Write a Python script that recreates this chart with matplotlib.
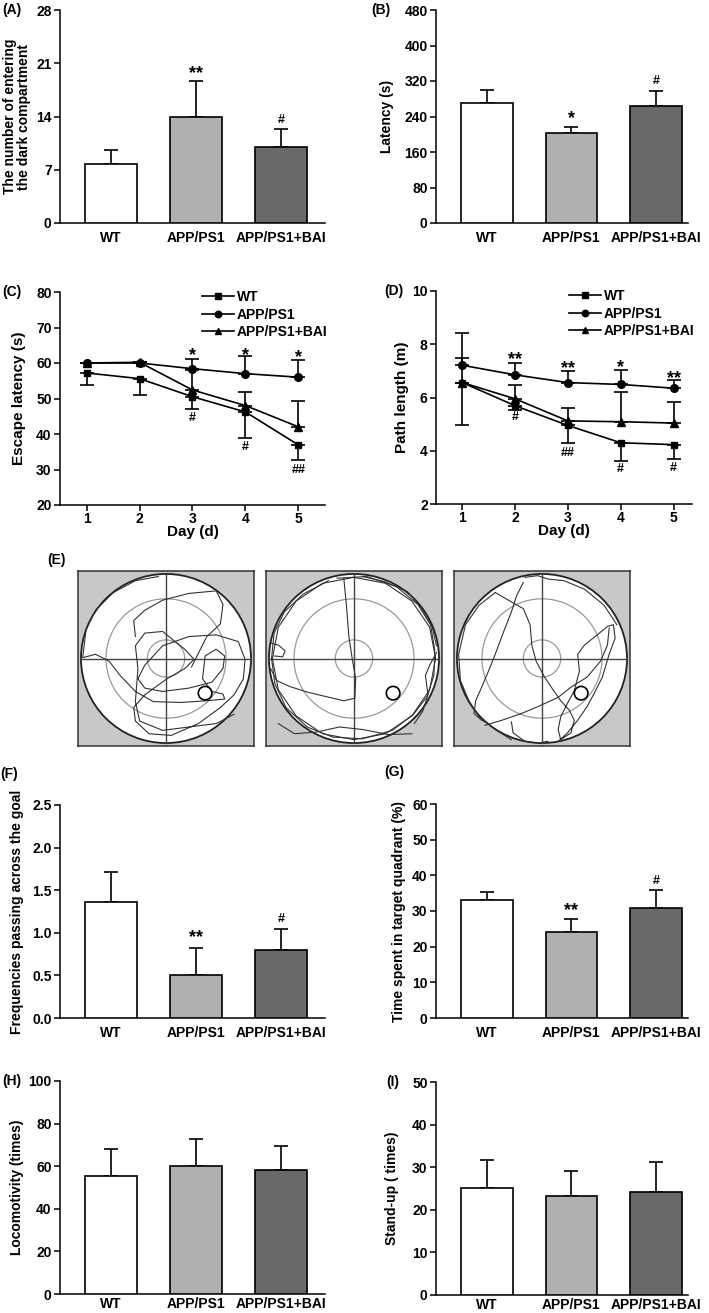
import matplotlib
matplotlib.use('Agg')
import numpy as np
import matplotlib.pyplot as plt
from matplotlib.patches import Circle

plt.rcParams.update({'font.family': ['Liberation Sans', 'DejaVu Sans'], 'font.weight': 'bold',
                     'font.size': 10, 'axes.linewidth': 1.1})

W, H = 709, 1313
groups = ['WT', 'APP/PS1', 'APP/PS1+BAI']
bar_colors = ['white', '#b0b0b0', '#696969']

# bar panels: means and upper SEM
a_vals = [7.8, 14.0, 10.05]
a_err = [1.85, 4.7, 2.25]
b_vals = [270, 203, 264]
b_err = [29, 14, 33]
f_vals = [1.36, 0.50, 0.80]
f_err = [0.35, 0.32, 0.25]
g_vals = [33.0, 24.2, 30.9]
g_err = [2.2, 3.5, 4.9]
h_vals = [55.5, 60.1, 58.2]
h_err = [12.4, 12.8, 11.2]
i_vals = [25.2, 23.2, 24.1]
i_err = [6.4, 5.9, 7.2]

# water maze training
days = [1, 2, 3, 4, 5]
c_wt = [57.2, 55.6, 50.5, 46.2, 36.9]
c_wt_err = [3.5, 4.7, 3.5, 7.4, 4.3]
c_app = [60.0, 60.0, 58.4, 57.0, 56.0]
c_app_err = [0, 0, 2.8, 5.0, 4.8]
c_bai = [60.0, 60.2, 52.4, 48.0, 42.0]
c_bai_err = [0, 0, 5.5, 3.8, 7.3]
d_wt = [6.56, 5.69, 4.95, 4.30, 4.23]
d_wt_err = [1.61, 0.15, 0.67, 0.67, 0.53]
d_app = [7.21, 6.85, 6.56, 6.49, 6.35]
d_app_err = [1.20, 0.44, 0.43, 0.55, 0.29]
d_bai = [6.56, 5.95, 5.12, 5.09, 5.04]
d_bai_err = [0.92, 0.53, 0.49, 1.10, 0.80]

# swim tracks (pool centre 0,0 ; radius 100)
wt_track1 = [(-9, 97), (-36, 92), (-62, 78), (-83, 57), (-94, 34), (-98, 1), (-83, 5), (-67, -3), (-54, -20),
             (-36, -39), (-15, -51), (17, -52), (48, -50), (69, -48), (67, -42), (54, -39), (43, -24), (46, 3),
             (59, 11), (69, 3), (67, -12), (54, -28), (27, -35), (-4, -39), (-25, -35), (-33, -24), (-25, -8),
             (-4, 15), (27, 26), (59, 28), (85, 20), (93, -1), (91, -24), (80, -43), (64, -58), (38, -77),
             (6, -91), (-20, -89), (-36, -74), (-38, -58), (-25, -43), (1, -24), (22, -12), (33, -1), (22, 11),
             (-4, 32), (-25, 30), (-36, 15), (-33, -12), (-36, -51), (-31, -74), (-4, -85), (27, -81),
             (59, -77), (80, -66)]
wt_track2 = [(-36, 26), (-38, 45), (-25, 57), (-4, 69), (27, 77), (59, 80), (67, 64), (64, 41), (48, 26),
             (40, 10), (30, -10)]
app_rim1 = [(0, 96), (37, 89), (68, 68), (89, 37), (96, 0), (89, -37), (68, -68), (37, -89), (0, -96),
            (-37, -89), (-68, -68), (-89, -37), (-96, 0), (-89, 37), (-68, 68), (-37, 89), (0, 96)]
app_rim2 = [(-20, 95), (15, 97), (50, 85), (75, 64), (90, 40), (95, 10), (94, -20), (86, -45), (70, -66),
            (45, -85), (10, -95), (-25, -93), (-55, -81), (-80, -58), (-93, -30), (-97, 0), (-94, 30),
            (-82, 55), (-60, 76), (-30, 92)]
app_track1 = [(-12, 95), (-9, 64), (-6, 26), (-2, -1), (2, -24), (1, -47), (-12, -50), (-33, -45),
              (-54, -40), (-76, -33), (-91, -26), (-98, -12)]
app_track2 = [(-89, -77), (-70, -89), (-44, -87), (-17, -81), (10, -84), (41, -90), (68, -89)]
app_track3 = [(97, 7), (89, -8), (84, -20), (87, -43), (81, -62), (71, -77)]
app_track4 = [(-97, 18), (-89, 16), (-81, 9), (-84, 2), (-94, 3)]
app_track5 = [(10, 97), (36, 91), (63, 79), (79, 60), (92, 37), (97, 15)]
bai_track1 = [(-22, 90), (-30, 74), (-36, 55), (-45, 32), (-55, 5), (-63, -15), (-71, -34), (-78, -50),
              (-80, -65), (-71, -73), (-63, -77)]
bai_track2 = [(-55, 78), (-36, 67), (-22, 59), (-14, 40), (-12, 16), (-7, -3), (3, -22), (11, -34), (22, -50),
              (32, -61), (38, -73), (34, -88), (22, -96), (19, -84), (22, -69), (30, -53), (38, -38), (44, -15),
              (42, 5), (50, 16), (65, 28), (77, 38), (84, 40), (86, 24), (79, 5), (71, -22), (61, -42),
              (53, -57), (42, -73), (30, -88), (19, -98)]
bai_track3 = [(-67, -79), (-47, -73), (-24, -65), (-5, -57), (19, -46), (34, -34), (53, -22), (69, -3),
              (77, 16), (79, 36)]
bai_track4 = [(-36, -75), (-34, -88), (-20, -98), (-5, -100), (7, -98)]
bai_track5 = [(-20, 96), (-5, 98), (7, 94), (26, 92), (50, 82), (73, 63), (88, 40)]
bai_track6 = [(-55, 78), (-74, 63), (-90, 40), (-98, 5), (-96, -26), (-86, -50), (-74, -69), (-55, -84),
              (-36, -96)]
platform = (46, -41)

fig = plt.figure(figsize=(W / 100, H / 100), dpi=100)


def px_axes(l, t, r, b):
    return fig.add_axes([l / W, 1 - b / H, (r - l) / W, (b - t) / H])


def style(ax):
    ax.spines['top'].set_visible(False)
    ax.spines['right'].set_visible(False)
    ax.tick_params(direction='out', length=4, width=1.1, labelsize=10, pad=2)


def bar_panel(box, vals, errs, ymax, step, ylabel, lab_x, xr, xpad=6):
    ax = px_axes(*box)
    style(ax)
    x = np.arange(3)
    ax.bar(x, vals, width=0.61, color=bar_colors, edgecolor='black', linewidth=1.2, zorder=3)
    ax.errorbar(x, vals, yerr=[np.zeros(3), errs], fmt='none', ecolor='black', elinewidth=1.2,
                capsize=5, capthick=1.2, zorder=2)
    ax.set_xlim(-0.6, xr)
    ax.set_ylim(0, ymax)
    ax.set_yticks(np.arange(0, ymax + step / 2, step))
    ax.set_xticks(x)
    ax.set_xticklabels(groups)
    ax.tick_params(axis='x', length=0, pad=xpad)
    ax.set_ylabel(ylabel, fontsize=10, fontweight='bold', linespacing=1.0)
    ax.yaxis.set_label_coords((lab_x - box[0]) / (box[2] - box[0]), 0.5)
    return ax


axA = bar_panel((60, 10, 325, 223), a_vals, a_err, 28, 7,
                'The number of entering\nthe dark compartment', 31, 2.52)
axA.set_yticklabels(['0', '7', '14', '21', '28'])
axA.text(1, 19.6, '**', ha='center', va='center', fontsize=13)
axA.text(2, 13.6, '#', ha='center', va='center', fontsize=9)

axB = bar_panel((436, 10, 688, 223), b_vals, b_err, 480, 80, 'Latency (s)', 394, 2.38)
axB.text(1, 236, '*', ha='center', va='center', fontsize=13)
axB.text(2, 319, '#', ha='center', va='center', fontsize=9)

axF = bar_panel((60, 805, 325, 1018), f_vals, f_err, 2.5, 0.5, 'Frequencies passing across the goal', 24, 2.52)
axF.set_yticklabels(['0.0', '0.5', '1.0', '1.5', '2.0', '2.5'])
axF.text(1, 0.94, '**', ha='center', va='center', fontsize=13)
axF.text(2, 1.16, '#', ha='center', va='center', fontsize=9)

axG = bar_panel((436, 804, 688, 1018), g_vals, g_err, 60, 10, 'Time spent in target quadrant (%)', 406, 2.38)
axG.text(1, 30.0, '**', ha='center', va='center', fontsize=13)
axG.text(2, 38.4, '#', ha='center', va='center', fontsize=9)

axH = bar_panel((60, 1081, 325, 1294), h_vals, h_err, 100, 20, 'Locomotivity (times)', 24, 2.52, xpad=2)
axI = bar_panel((436, 1082, 688, 1295), i_vals, i_err, 50, 10, 'Stand-up ( times)', 399, 2.38, xpad=2)


def line_panel(box, wt, wte, app, appe, bai, baie, ylim, step, ylabel, lab_x, xr):
    ax = px_axes(*box)
    style(ax)
    z = np.zeros(5)
    ax.errorbar(days, wt, yerr=[wte, z], color='black', lw=1.2, marker='s', ms=5,
                capsize=5, capthick=1.2, elinewidth=1.2, label='WT', zorder=3)
    ax.errorbar(days, app, yerr=[z, appe], color='black', lw=1.2, marker='o', ms=5.5,
                capsize=5, capthick=1.2, elinewidth=1.2, label='APP/PS1', zorder=3)
    ax.errorbar(days, bai, yerr=[z, baie], color='black', lw=1.2, marker='^', ms=5.5,
                capsize=5, capthick=1.2, elinewidth=1.2, label='APP/PS1+BAI', zorder=3)
    ax.set_xlim(0.5, xr)
    ax.set_ylim(*ylim)
    ax.set_yticks(np.arange(ylim[0], ylim[1] + step / 2, step))
    ax.set_xticks(days)
    ax.tick_params(axis='x', length=4, pad=1)
    ax.set_xlabel('Day (d)', fontsize=11, fontweight='bold', labelpad=-1)
    ax.set_ylabel(ylabel, fontsize=11, fontweight='bold')
    ax.yaxis.set_label_coords((lab_x - box[0]) / (box[2] - box[0]), 0.5)
    handles, labels = ax.get_legend_handles_labels()
    handles = [h[0] for h in handles]
    ax.legend(handles, labels, loc='upper right', bbox_to_anchor=(1.03, 1.035), frameon=False,
              fontsize=10, handlelength=2.3, handletextpad=0.2, labelspacing=0.25, borderaxespad=0,
              markerscale=0.85)
    return ax


axC = line_panel((60, 292, 325, 505), c_wt, c_wt_err, c_app, c_app_err, c_bai, c_bai_err,
                 (20, 80), 10, 'Escape latency (s)', 26, 5.5)
for d, y, s in [(3, 63.8, '*'), (4, 63.8, '*'), (5, 63.4, '*')]:
    axC.text(d, y - 1.8, s, ha='center', va='center', fontsize=13)
for d, y, s in [(3, 44.4, '#'), (4, 36.4, '#'), (5, 29.8, '##')]:
    axC.text(d, y, s, ha='center', va='center', fontsize=9)

axD = line_panel((436, 291, 692, 504), d_wt, d_wt_err, d_app, d_app_err, d_bai, d_bai_err,
                 (2, 10), 2, 'Path length (m)', 409, 5.35)
for d, y, s in [(2, 7.66, '**'), (3, 7.31, '**'), (4, 7.38, '*'), (5, 6.95, '**')]:
    axD.text(d, y - 0.24, s, ha='center', va='center', fontsize=13)
for d, y, s in [(2, 5.26, '#'), (3, 3.91, '##'), (4, 3.31, '#'), (5, 3.37, '#')]:
    axD.text(d, y, s, ha='center', va='center', fontsize=9)

# panel E: swim paths
tracks_by_pool = [[wt_track1, wt_track2],
                  [app_rim1, app_rim2, app_track1, app_track2, app_track3, app_track4, app_track5],
                  [bai_track1, bai_track2, bai_track3, bai_track4, bai_track5, bai_track6]]
for left, tracks in zip([78, 266, 454], tracks_by_pool):
    ax = px_axes(left, 571, left + 176, 746)
    ax.set_xlim(-103.5, 103.5)
    ax.set_ylim(-103.5, 103.5)
    ax.set_xticks([])
    ax.set_yticks([])
    ax.set_facecolor('#c8c8c8')
    for sp in ax.spines.values():
        sp.set_color('#333333')
        sp.set_linewidth(1.1)
    ax.add_patch(Circle((0, 0), 100, facecolor='white', edgecolor='#222222', lw=1.3, zorder=1))
    for r in (70.6, 22):
        ax.add_patch(Circle((0, 0), r, facecolor='none', edgecolor='#9a9a9a', lw=0.9, zorder=2))
    ax.plot([-100, 100], [0, 0], color='#444444', lw=1.0, zorder=2)
    ax.plot([0, 0], [-100, 100], color='#444444', lw=1.0, zorder=2)
    for tr in tracks:
        xs, ys = zip(*tr)
        ax.plot(xs, ys, color='#333333', lw=0.8, zorder=3)
    ax.add_patch(Circle(platform, 8, facecolor='none', edgecolor='black', lw=1.2, zorder=4))

# panel letters
for t, x, y in [('(A)', 2, 10), ('(B)', 371, 10), ('(C)', 2, 292), ('(D)', 384, 291), ('(E)', 47, 560),
                ('(F)', 0, 774), ('(G)', 384, 772), ('(H)', 2, 1081), ('(I)', 386, 1082)]:
    fig.text(x / W, 1 - y / H, t, ha='left', va='center', fontsize=10, fontweight='bold')

fig.savefig('out.png', dpi=100)
